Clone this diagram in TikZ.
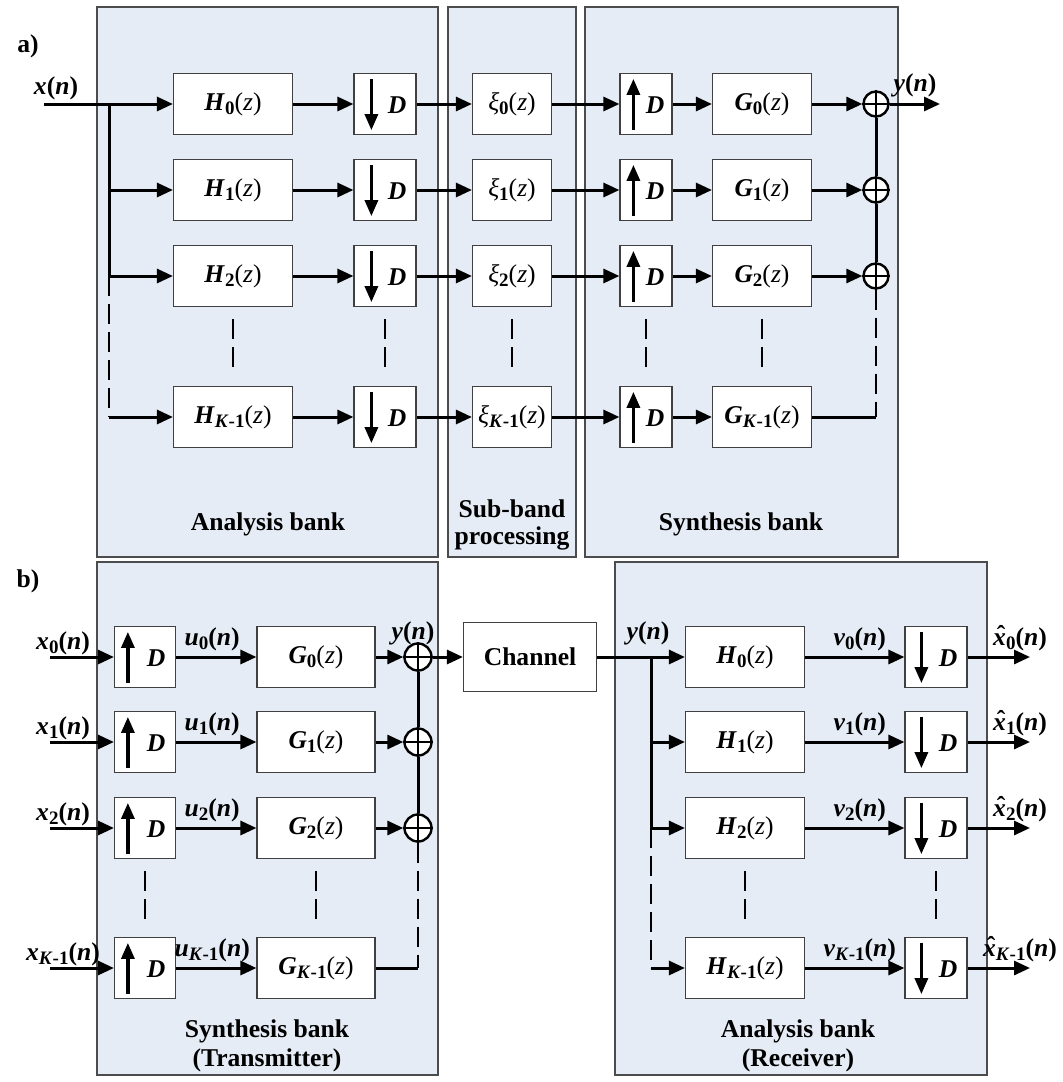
\documentclass[tikz,border=0pt]{standalone}
\usepackage{fontspec}
\setmainfont{Liberation Serif}
\usetikzlibrary{arrows.meta,calc}
\definecolor{panelblue}{HTML}{E5ECF6}
\newcommand\bi[1]{\textbf{\textit{#1}}}
\newcommand\lo[1]{\raisebox{-0.35ex}{\fontsize{9.5}{9.5}\selectfont\bfseries #1}}
\newcommand\sg[2]{\bi{#1}\lo{#2}\textbf{(}\bi{n}\textbf{)}}
\newcommand\tf[2]{\bi{#1}\lo{#2}\textmd{(\textit{z})}}
\newcommand\xh{\ooalign{\bi{x}\cr\hidewidth\kern0.12em\raisebox{0.1ex}{\bfseries ˆ}\hidewidth\cr}}
\begin{document}
\begin{tikzpicture}[x=0.5pt,y=-0.5pt,
  font=\fontsize{12.8}{15}\selectfont\bfseries,
  panel/.style={draw=black!70,fill=panelblue,line width=0.6pt},
  blk/.style={draw=black!75,fill=white,line width=0.6pt,minimum height=30.5pt,inner sep=0pt},
  sumnode/.style={circle,draw,line width=1.2pt,fill=white,minimum size=#1,inner sep=0pt},
  sigl/.style={line width=1.5pt,-{Triangle[length=8pt,width=7pt]}},
  smpa/.style={line width=1.6pt,-{Triangle[length=8pt,width=6.5pt]}},
  wire/.style={line width=1.5pt},
  dsh/.style={line width=1.3pt,dash pattern=on 10pt off 4pt},
  lab/.style={inner sep=0pt,anchor=base}
]
\useasboundingbox (0,0) rectangle (1062,1082);
% ---------------- panel a ----------------
\draw[panel] (97,7) rectangle (438,557);
\draw[panel] (448,7) rectangle (576,557);
\draw[panel] (585,7) rectangle (898,557);
\node[lab] (la) at (28,52) {a)};
\node[lab] (lab1) at (268,530) {Analysis bank};
\node[lab] (lab2) at (512,517) {Sub-band};
\node[lab] (lab3) at (512,544) {processing};
\node[lab] (lab4) at (741,530) {Synthesis bank};
\foreach \i/\r/\s in {0/104/0,1/190/1,2/276/2,3/417/\textit{K}-1}{
  \node[blk,minimum width=59.5pt] (H\i) at (233,\r) {\tf{H}{\s}};
  \node[blk,minimum width=31pt] (DN\i) at (385,\r) {};
  \draw[smpa] ($(DN\i.north west)+(18,6)$) -- ($(DN\i.south west)+(18,-5)$);
  \node[lab] at ($(DN\i.center)+(12,9)$) {\bi{D}};
  \node[blk,minimum width=39.5pt] (X\i) at (512,\r) {\bi{\textmd{ξ}}\lo{\s}\textmd{(\textit{z})}};
  \node[blk,minimum width=26pt] (UP\i) at (646,\r) {};
  \draw[smpa] ($(UP\i.south west)+(14,-5)$) -- ($(UP\i.north west)+(14,6)$);
  \node[lab] at ($(UP\i.center)+(9,9)$) {\bi{D}};
  \node[blk,minimum width=49.5pt] (G\i) at (762,\r) {\tf{G}{\s}};
  \draw[sigl] (H\i) -- (DN\i);
  \draw[sigl] (DN\i) -- (X\i);
  \draw[sigl] (X\i) -- (UP\i);
  \draw[sigl] (UP\i) -- (G\i);
}
\foreach \i/\r in {0/104,1/190,2/276}{
  \node[sumnode=12.5pt] (S\i) at (876,\r) {};
  \draw[line width=1.2pt] (S\i.north) -- (S\i.south) (S\i.west) -- (S\i.east);
  \draw[sigl] (G\i) -- (S\i);
}
\coordinate (S3) at (876,417);
\draw[wire] (G3) -- (S3);
\draw[wire] (S0) -- (S1) (S1) -- (S2);
\draw[dsh] (S2.south) -- (S3);
\coordinate (yout) at (940,104);
\draw[sigl] (S0) -- (yout);
\node[lab] (ylab) at (915,91) {\sg{y}{}};
\coordinate (xin) at (44,104);
\coordinate (J0) at (109,104);
\coordinate (J1) at (109,190);
\coordinate (J2) at (109,276);
\coordinate (J3) at (109,417);
\node[lab] (xlab) at (56,94) {\sg{x}{}};
\draw[sigl] (xin) -- (H0);
\draw[wire] (J0) -- (J2);
\draw[sigl] (J1) -- (H1);
\draw[sigl] (J2) -- (H2);
\draw[dsh] (J2) -- (J3);
\draw[sigl] (J3) -- (H3);
\foreach \n in {H,DN,X,UP,G}{
  \draw[dsh] ($(\n2.south)+(0,12)$) -- ($(\n3.north)+(0,-12)$);
}
% ---------------- panel b ----------------
\draw[panel] (97,562) rectangle (438,1075);
\draw[panel] (615,562) rectangle (987,1075);
\node[lab] (lb) at (28,587) {b)};
\node[lab] (lb1) at (267,1037) {Synthesis bank};
\node[lab] (lb2) at (267,1066) {(Transmitter)};
\node[lab] (lb3) at (798,1037) {Analysis bank};
\node[lab] (lb4) at (798,1066) {(Receiver)};
\foreach \i/\r/\s in {0/657/0,1/742/1,2/828/2,3/968/\textit{K}-1}{
  \coordinate (IN\i) at (50,\r);
  \node[blk,minimum width=30.5pt] (TU\i) at (145,\r) {};
  \draw[smpa] ($(TU\i.south west)+(14,-5)$) -- ($(TU\i.north west)+(14,6)$);
  \node[lab] at ($(TU\i.center)+(11,9)$) {\bi{D}};
  \node[blk,minimum width=59pt] (TG\i) at (316,\r) {\tf{G}{\s}};
  \draw[sigl] (IN\i) -- (TU\i);
  \draw[sigl] (TU\i) -- node[lab,pos=0.45,yshift=6pt] {\sg{u}{\s}} (TG\i);
  \node[lab] at (63,\r-8) {\sg{x}{\s}};
  \node[blk,minimum width=59.5pt] (RH\i) at (745,\r) {\tf{H}{\s}};
  \node[blk,minimum width=31pt] (RD\i) at (936,\r) {};
  \draw[smpa] ($(RD\i.north west)+(17,6)$) -- ($(RD\i.south west)+(17,-5)$);
  \node[lab] at ($(RD\i.center)+(12,9)$) {\bi{D}};
  \coordinate (OUT\i) at (1030,\r);
  \draw[sigl] (RH\i) -- node[lab,pos=0.55,yshift=6pt] {\sg{v}{\s}} (RD\i);
  \draw[sigl] (RD\i) -- (OUT\i);
  \node[lab] at (1020,\r-12) {\xh\lo{\s}\textbf{(}\bi{n}\textbf{)}};
}
\foreach \i/\r in {0/657,1/742,2/828}{
  \node[sumnode=13.5pt] (TS\i) at (418,\r) {};
  \draw[line width=1.2pt] (TS\i.north) -- (TS\i.south) (TS\i.west) -- (TS\i.east);
  \draw[sigl] (TG\i) -- (TS\i);
}
\coordinate (TS3) at (418,968);
\draw[wire] (TG3) -- (TS3);
\draw[wire] (TS0) -- (TS1) (TS1) -- (TS2);
\draw[dsh] (TS2.south) -- (TS3);
\node[blk,minimum width=66.5pt,minimum height=34.5pt] (CH) at (530,657) {Channel};
\draw[sigl] (TS0) -- (CH);
\node[lab] (ty) at (413,639) {\sg{y}{}};
\coordinate (RJ0) at (651,657);
\coordinate (RJ1) at (651,742);
\coordinate (RJ2) at (651,828);
\coordinate (RJ3) at (651,968);
\node[lab] (ry) at (648,639) {\sg{y}{}};
\draw[sigl] (CH) -- (RH0);
\draw[wire] (RJ0) -- (RJ2);
\draw[sigl] (RJ1) -- (RH1);
\draw[sigl] (RJ2) -- (RH2);
\draw[dsh] (RJ2) -- (RJ3);
\draw[sigl] (RJ3) -- (RH3);
\foreach \n in {TU,TG,RH,RD}{
  \draw[dsh] ($(\n2.south)+(0,12)$) -- ($(\n3.north)+(0,-12)$);
}
\end{tikzpicture}
\end{document}
